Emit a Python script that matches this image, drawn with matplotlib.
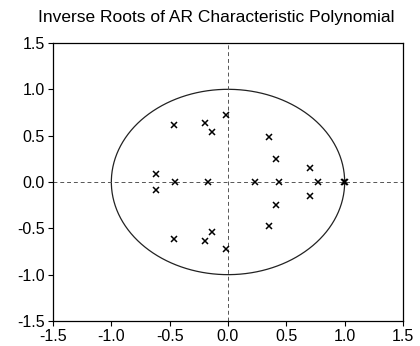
import numpy as np
import matplotlib
matplotlib.use("Agg")
import matplotlib.pyplot as plt

plt.rcParams['font.family'] = ['Liberation Sans', 'DejaVu Sans']

# inverse roots (complex ones come in conjugate pairs)
pair_re = [-0.02, -0.46, -0.20, -0.14, -0.62, 0.35, 0.41, 0.70]
pair_im = [0.72, 0.62, 0.64, 0.54, 0.085, 0.48, 0.245, 0.15]
real_roots = [-0.45, -0.17, 0.23, 0.44, 0.77, 0.995, 1.0]

root_re = pair_re + pair_re + real_roots
root_im = pair_im + [-v for v in pair_im] + [0.0] * len(real_roots)

ticks = [-1.5, -1.0, -0.5, 0.0, 0.5, 1.0, 1.5]
tick_labels = ["-1.5", "-1.0", "-0.5", "0.0", "0.5", "1.0", "1.5"]

fig = plt.figure(figsize=(4.2, 3.46), dpi=100)
ax = fig.add_axes([0.1262, 0.0723, 0.8333, 0.8035])

theta = np.linspace(0, 2 * np.pi, 400)
ax.plot(np.cos(theta), np.sin(theta), color='#222222', lw=0.9)
ax.axhline(0, color='#555555', lw=0.7, ls=(0, (4, 3)))
ax.axvline(0, color='#555555', lw=0.7, ls=(0, (4, 3)))
ax.plot(root_re, root_im, ls='none', marker='x', color='black',
        markersize=4, markeredgewidth=1.1)

ax.set_xlim(-1.5, 1.5)
ax.set_ylim(-1.5, 1.5)
ax.set_xticks(ticks)
ax.set_xticklabels(tick_labels)
ax.set_yticks(ticks)
ax.set_yticklabels(tick_labels)
ax.tick_params(direction='out', length=3.5, width=0.8, labelsize=11.5,
               top=False, right=False, pad=2.5)
for sp in ax.spines.values():
    sp.set_linewidth(0.9)

fig.text(38 / 420, 1 - 22 / 346, "Inverse Roots of AR Characteristic Polynomial",
         fontsize=12.5, ha='left', va='baseline')

fig.savefig("out.png", dpi=100)
